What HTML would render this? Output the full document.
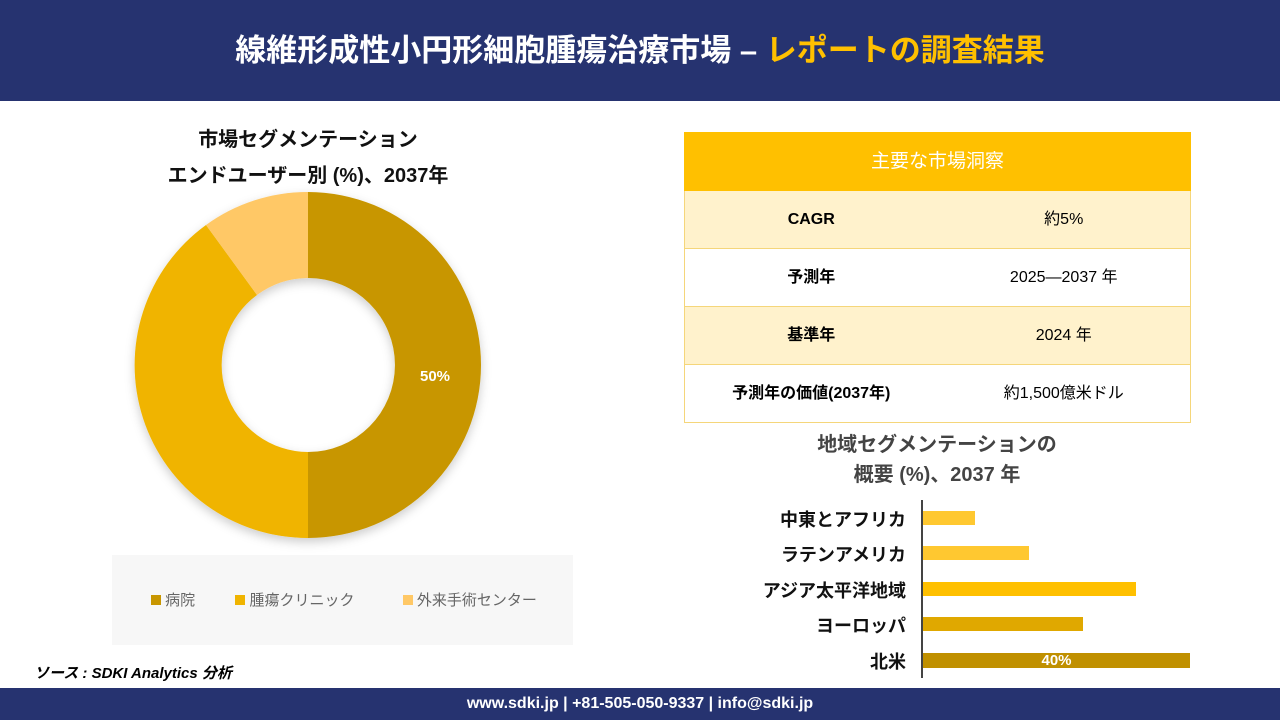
<!DOCTYPE html>
<html><head><meta charset="utf-8"><style>
*{margin:0;padding:0;box-sizing:border-box}
body{width:1280px;height:720px;position:relative;background:#fff;font-family:"Liberation Sans","Noto Sans CJK JP",sans-serif;overflow:hidden}
.hdr{position:absolute;left:0;top:0;width:1280px;height:101px;background:#263370;color:#fff;font-weight:bold;font-size:31px;text-align:center;line-height:101px}
.hdr span{color:#ffc000}
.ftr{position:absolute;left:0;top:688px;width:1280px;height:32px;background:#263370;color:#fff;font-weight:bold;font-size:16px;text-align:center;line-height:32px}
.t{position:absolute;text-align:center;font-weight:bold}
table{position:absolute;left:684px;top:132px;width:507px;border-collapse:collapse;font-size:16px}
td{height:58px;text-align:center;vertical-align:middle;line-height:20px;border-top:1px solid #f5d67a;border-bottom:1px solid #f5d67a;padding:0}
tr td:first-child{border-left:1px solid #f5d67a}
tr td:last-child{border-right:1px solid #f5d67a}
tr.h td{background:#ffc000;color:#fff;font-size:19px;border-color:#ffc000}
tr.y td{background:#fff2cc}
td.b{font-weight:bold;width:50%}
.lab{position:absolute;right:374px;font-size:18px;font-weight:bold;color:#111;text-align:right}
.bar{position:absolute;left:923px;height:14px}
</style></head><body>
<div class="hdr">線維形成性小円形細胞腫瘍治療市場 – <span>レポートの調査結果</span></div>
<div class="t" style="left:108px;width:400px;top:122px;font-size:20px;line-height:36px;color:#111">市場セグメンテーション<br>エンドユーザー別 (%)、2037年</div>
<svg style="position:absolute;left:0;top:0" width="640" height="560">
<defs><filter id="s"><feDropShadow dx="0" dy="4" stdDeviation="5" flood-opacity="0.2"/></filter></defs>
<g filter="url(#s)">
<path d="M308,192 A173,173 0 0 1 308,538 L308,452 A87,87 0 0 0 308,278 Z" fill="#c89600"/>
<path d="M308,538 A173,173 0 0 1 206,225 L257,295 A87,87 0 0 0 308,452 Z" fill="#f0b400"/>
<path d="M206,225 A173,173 0 0 1 308,192 L308,278 A87,87 0 0 0 257,295 Z" fill="#ffc866"/>
</g>
<text x="435" y="381" fill="#fff" font-size="15" font-weight="bold" text-anchor="middle" font-family="Liberation Sans">50%</text>
</svg>
<div style="position:absolute;left:112px;top:555px;width:461px;height:90px;background:#f7f7f7"></div>
<div style="position:absolute;left:151px;top:589px;font-size:15px;color:#666;white-space:nowrap">
<span style="display:inline-block;width:10px;height:10px;background:#c89600"></span> 病院
<span style="display:inline-block;width:10px;height:10px;background:#f0b400;margin-left:36px"></span> 腫瘍クリニック
<span style="display:inline-block;width:10px;height:10px;background:#ffc866;margin-left:44px"></span> 外来手術センター</div>
<div style="position:absolute;left:34px;top:662px;font-size:15px;font-style:italic;font-weight:bold">ソース : SDKI Analytics 分析</div>
<table>
<tr class="h"><td colspan="2">主要な市場洞察</td></tr>
<tr class="y"><td class="b">CAGR</td><td>約5%</td></tr>
<tr><td class="b">予測年</td><td>2025—2037 年</td></tr>
<tr class="y"><td class="b">基準年</td><td>2024 年</td></tr>
<tr><td class="b">予測年の価値(2037年)</td><td>約1,500億米ドル</td></tr>
</table>
<div class="t" style="left:737px;width:400px;top:430px;font-size:20px;line-height:30px;color:#444">地域セグメンテーションの<br>概要 (%)、2037 年</div>
<div style="position:absolute;left:921px;top:500px;width:2px;height:178px;background:#444"></div>
<div class="lab" style="top:506px">中東とアフリカ</div>
<div class="lab" style="top:541px">ラテンアメリカ</div>
<div class="lab" style="top:577px">アジア太平洋地域</div>
<div class="lab" style="top:612px">ヨーロッパ</div>
<div class="lab" style="top:648px">北米</div>
<div class="bar" style="top:511px;width:52px;background:#ffc830"></div>
<div class="bar" style="top:546px;width:106px;background:#ffc830"></div>
<div class="bar" style="top:582px;width:213px;background:#ffc000"></div>
<div class="bar" style="top:617px;width:160px;background:#e0a800"></div>
<div class="bar" style="top:653px;width:267px;background:#c09000;color:#fff;font-weight:bold;font-size:15px;text-align:center;line-height:16px;height:15px">40%</div>
<div class="ftr">www.sdki.jp | +81-505-050-9337 | info@sdki.jp</div>
</body></html>
